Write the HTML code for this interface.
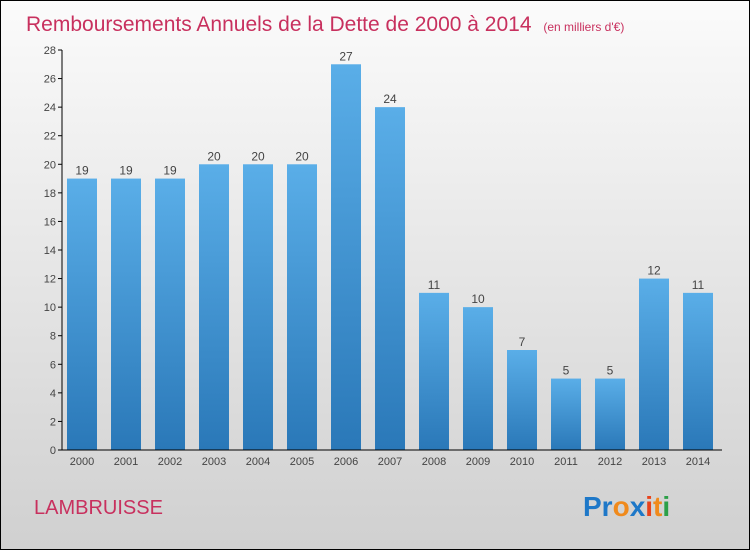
<!DOCTYPE html>
<html><head><meta charset="utf-8"><style>
body{margin:0;width:750px;height:550px;overflow:hidden}
svg{display:block;font-family:"Liberation Sans",sans-serif}
</style></head><body>
<svg id="chart" width="750" height="550">
<defs>
<linearGradient id="bg" x1="0" y1="0" x2="0" y2="1"><stop offset="0" stop-color="#fbfbfb"/><stop offset="1" stop-color="#d0d0d0"/></linearGradient>
<linearGradient id="bar" x1="0" y1="0" x2="0" y2="1"><stop offset="0" stop-color="#5aaee8"/><stop offset="1" stop-color="#2a78b8"/></linearGradient>
</defs>
<rect x="0.5" y="0.5" width="749" height="549" fill="url(#bg)" stroke="#000"/>
<text x="26" y="31" font-size="21" fill="#c8305e">Remboursements Annuels de la Dette de 2000 à 2014 <tspan font-size="12" dx="6">(en milliers d'€)</tspan></text>
<g id="plot"></g>
<text x="34" y="514" font-size="20" fill="#c8305e">LAMBRUISSE</text>
<g font-size="28" font-weight="bold" font-family="'Liberation Sans',sans-serif">
<text x="583" y="516"><tspan fill="#1e78c8">Pr</tspan><tspan fill="#f08a1c">o</tspan><tspan fill="#1e78c8">x</tspan><tspan fill="#e8431c">i</tspan><tspan fill="#f08a1c">t</tspan><tspan fill="#2ca048">i</tspan></text>
</g>
</svg>
<script>
const years=["2000","2001","2002","2003","2004","2005","2006","2007","2008","2009","2010","2011","2012","2013","2014"];
const values=[19,19,19,20,20,20,27,24,11,10,7,5,5,12,11];
const yTicks=[0,2,4,6,8,10,12,14,16,18,20,22,24,26,28];
const NS="http://www.w3.org/2000/svg";
const g=document.getElementById('plot');
const y0=450,yTop=50,yMax=28,x0=62,step=44,bw=30;
const Y=v=>y0-(v/yMax)*(y0-yTop);
const X=i=>x0+5+i*step;
function mk(t,a,txt){const e=document.createElementNS(NS,t);for(const k in a)e.setAttribute(k,a[k]);if(txt!=null)e.textContent=txt;g.appendChild(e);return e;}
yTicks.forEach(v=>{
 const l=mk('line',{x1:x0-4,x2:x0,y1:Y(v),y2:Y(v),stroke:'#000'});
 
 
 const t=mk('text',{x:x0-6,y:Y(v)+4,'font-size':11,fill:'#444','text-anchor':'end'},v);
 
 
});
values.forEach((v,i)=>{
 const r=mk('rect',{x:X(i),y:Y(v),width:bw,height:y0-Y(v),fill:'url(#bar)'});
 
 
 const t=mk('text',{x:X(i)+bw/2,y:Y(v)-4,'font-size':12,fill:'#444','text-anchor':'middle'},v);
 
 
 const xl=mk('text',{x:X(i)+bw/2,y:y0+15,'font-size':11,fill:'#444','text-anchor':'middle'},years[i]);
 
 
});
const ya=mk('line',{x1:x0,x2:x0,y1:yTop,y2:y0,stroke:'#000'});


const xa=mk('line',{x1:x0,x2:722,y1:y0,y2:y0,stroke:'#000'});


</script>
</body></html>
